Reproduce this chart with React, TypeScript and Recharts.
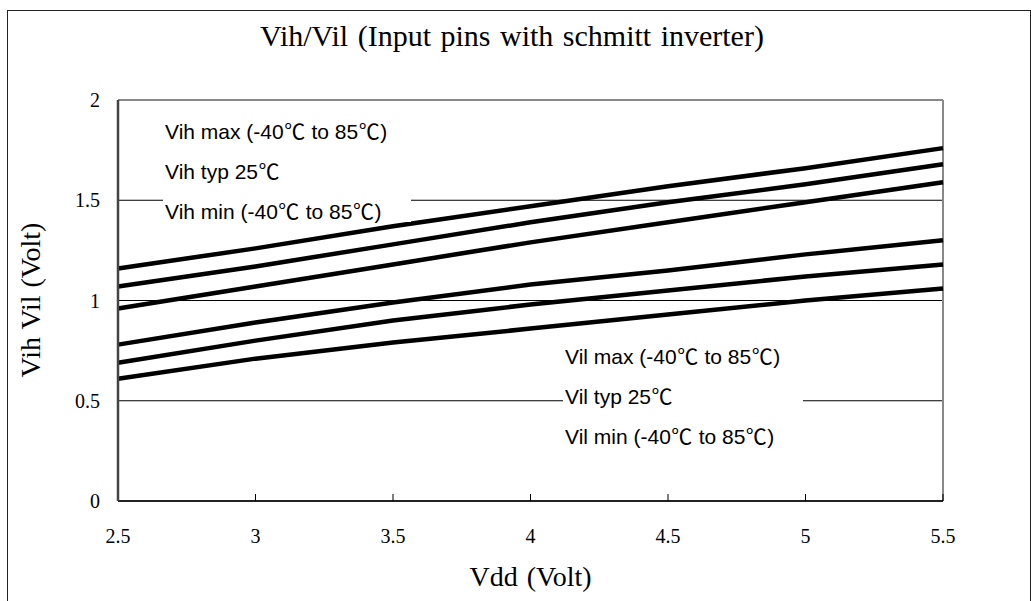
import React from "react";
import {
  LineChart,
  Line,
  XAxis,
  YAxis,
  CartesianGrid,
  ReferenceLine,
} from "recharts";

// supply voltage (x) and thresholds
const vdd = [2.5, 3, 3.5, 4, 4.5, 5, 5.5];
const vihMax = [1.16, 1.26, 1.37, 1.47, 1.57, 1.66, 1.76];
const vihTyp = [1.07, 1.17, 1.28, 1.39, 1.49, 1.58, 1.68];
const vihMin = [0.96, 1.07, 1.18, 1.29, 1.39, 1.49, 1.59];
const vilMax = [0.78, 0.89, 0.99, 1.08, 1.15, 1.23, 1.3];
const vilTyp = [0.69, 0.8, 0.9, 0.98, 1.05, 1.12, 1.18];
const vilMin = [0.61, 0.71, 0.79, 0.86, 0.93, 1.0, 1.06];

const yTicks = [0, 0.5, 1, 1.5, 2];
const vihLabels = [
  "Vih max (-40℃ to 85℃)",
  "Vih typ 25℃",
  "Vih min (-40℃ to 85℃)",
];
const vilLabels = [
  "Vil max (-40℃ to 85℃)",
  "Vil typ 25℃",
  "Vil min (-40℃ to 85℃)",
];

const serif = '"Liberation Serif", "Times New Roman", serif';
const sans = '"Liberation Sans", Arial, sans-serif';
const cjk = '"Noto Sans CJK JP", "Noto Sans CJK TC", sans-serif';

const series = [vihMax, vihTyp, vihMin, vilMax, vilTyp, vilMin];
const keys = ["vihMax", "vihTyp", "vihMin", "vilMax", "vilTyp", "vilMin"];

const data = vdd.map((v, i) => {
  const row: Record<string, number> = { vdd: v };
  keys.forEach((k, j) => {
    row[k] = series[j][i];
  });
  return row;
});

// the degree sign is a full-width CJK glyph in the original
function withDegree(text: string) {
  const parts = text.split("℃");
  return parts.map((p, i) => (
    <React.Fragment key={i}>
      {p}
      {i < parts.length - 1 && (
        <span
          style={{
            fontFamily: cjk,
            display: "inline-block",
            width: 22,
            textAlign: "center",
          }}
        >
          ℃
        </span>
      )}
    </React.Fragment>
  ));
}

function Notes({
  left,
  top,
  width,
  height,
  firstCenter,
  lines,
}: {
  left: number;
  top: number;
  width: number;
  height: number;
  firstCenter: number;
  lines: string[];
}) {
  return (
    <>
      <div
        style={{
          position: "absolute",
          left,
          top,
          width,
          height,
          background: "#fff",
        }}
      />
      {lines.map((t, i) => (
        <div
          key={t}
          style={{
            position: "absolute",
            left: left + 2,
            top: firstCenter + i * 40 - 20,
            height: 40,
            lineHeight: "40px",
            fontFamily: sans,
            fontSize: 21,
            color: "#000",
            whiteSpace: "nowrap",
          }}
        >
          {withDegree(t)}
        </div>
      ))}
    </>
  );
}

export default function App() {
  const tickStyle = { fontSize: 20, fontFamily: serif, fill: "#000" };

  return (
    <div
      style={{
        position: "absolute",
        left: 0,
        top: 0,
        width: 1031,
        height: 601,
        overflow: "hidden",
        background: "#fff",
      }}
    >
      <div
        style={{
          position: "absolute",
          left: 7,
          top: 10,
          width: 1022,
          height: 700,
          border: "1px solid #222",
        }}
      />
      <LineChart
        width={1031}
        height={601}
        data={data}
        margin={{ top: 100, right: 88, left: 58, bottom: 70 }}
        style={{ position: "absolute", left: 0, top: 0 }}
      >
        <CartesianGrid
          vertical={false}
          horizontalValues={[0.5, 1, 1.5]}
          stroke="#000"
          strokeWidth={1}
        />
        <ReferenceLine y={2} stroke="#888" strokeWidth={2} />
        <ReferenceLine x={5.5} stroke="#888" strokeWidth={2} />
        <XAxis
          dataKey="vdd"
          type="number"
          domain={[2.5, 5.5]}
          ticks={vdd}
          height={30}
          fontSize={20}
          fontFamily={serif}
          tick={tickStyle}
          tickSize={-7}
          tickMargin={35}
          tickLine={{ stroke: "#000", strokeWidth: 1 }}
          axisLine={{ stroke: "#222", strokeWidth: 2 }}
        />
        <YAxis
          type="number"
          domain={[0, 2]}
          ticks={yTicks}
          width={60}
          fontSize={20}
          fontFamily={serif}
          tick={tickStyle}
          tickSize={0}
          tickMargin={18}
          tickLine={false}
          axisLine={{ stroke: "#444", strokeWidth: 2.5 }}
        />
        {keys.map((k) => (
          <Line
            key={k}
            dataKey={k}
            type="linear"
            stroke="#000"
            strokeWidth={4.5}
            dot={false}
            isAnimationActive={false}
          />
        ))}
      </LineChart>

      <Notes
        left={163}
        top={112}
        width={248}
        height={110}
        firstCenter={130}
        lines={vihLabels}
      />
      <Notes
        left={563}
        top={338}
        width={240}
        height={114}
        firstCenter={355}
        lines={vilLabels}
      />

      <div
        style={{
          position: "absolute",
          left: 0,
          top: 16,
          width: 1024,
          textAlign: "center",
          lineHeight: "40px",
          fontFamily: serif,
          fontSize: 30,
          wordSpacing: 2,
          color: "#000",
          whiteSpace: "nowrap",
        }}
      >
        Vih/Vil (Input pins with schmitt inverter)
      </div>
      <div
        style={{
          position: "absolute",
          left: 118,
          top: 557,
          width: 825,
          textAlign: "center",
          lineHeight: "40px",
          fontFamily: serif,
          fontSize: 28,
          wordSpacing: 2,
          color: "#000",
        }}
      >
        Vdd (Volt)
      </div>
      <div
        style={{
          position: "absolute",
          left: 31 - 150,
          top: 300 - 20,
          width: 300,
          height: 40,
          textAlign: "center",
          lineHeight: "40px",
          fontFamily: serif,
          fontSize: 28,
          wordSpacing: 1,
          color: "#000",
          transform: "rotate(-90deg)",
          whiteSpace: "nowrap",
        }}
      >
        Vih Vil (Volt)
      </div>
    </div>
  );
}
